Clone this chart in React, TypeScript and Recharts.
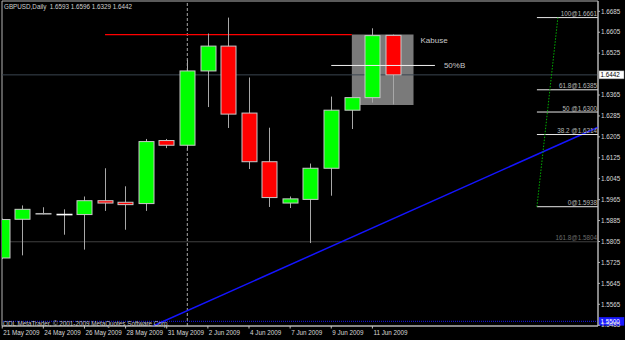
import React from 'react';
import { ComposedChart, Bar, XAxis, YAxis, ReferenceLine, ReferenceArea } from 'recharts';

// ---- data ----
const opens = [1.5742, 1.5890, 1.5911, 1.5908, 1.5908, 1.5961, 1.5955, 1.5950, 1.6191, 1.6173, 1.6457, 1.6552, 1.6296, 1.6110, 1.5952, 1.5966, 1.6085, 1.6307, 1.6355, 1.6593];
const highs = [1.5893, 1.5943, 1.5936, 1.5928, 1.5977, 1.6085, 1.6016, 1.6197, 1.6197, 1.6500, 1.6600, 1.6661, 1.6432, 1.6240, 1.5977, 1.6103, 1.6359, 1.6357, 1.6620, 1.6596];
const lows = [1.5738, 1.5752, 1.5909, 1.5831, 1.5774, 1.5922, 1.5850, 1.5922, 1.6162, 1.6156, 1.6319, 1.6239, 1.6082, 1.5937, 1.5933, 1.5799, 1.5980, 1.6235, 1.6336, 1.6329];
const closes = [1.5889, 1.5928, 1.5910, 1.5908, 1.5961, 1.5952, 1.5946, 1.6187, 1.6173, 1.6457, 1.6552, 1.6292, 1.6110, 1.5973, 1.5968, 1.6085, 1.6307, 1.6355, 1.6592, 1.6442];

const tickIdx = [0, 2, 4, 6, 8, 10, 12, 14, 16, 18];
const tickDates = ['21 May 2009', '24 May 2009', '26 May 2009', '28 May 2009', '31 May 2009', '2 Jun 2009', '4 Jun 2009', '7 Jun 2009', '9 Jun 2009', '11 Jun 2009'];
const priceTicks = [1.6685, 1.6605, 1.6525, 1.6365, 1.6285, 1.6205, 1.6125, 1.6045, 1.5965, 1.5885, 1.5805, 1.5725, 1.5645, 1.5565, 1.5485];

const fibNames = ['100@', '61.8@', '50 @', '38.2 @', '0@'];
const fibPrices = [1.6661, 1.6385, 1.6300, 1.6214, 1.5938];
const fibExtName = '161.8@';
const fibExtPrice = 1.5804;
const fibStartIdx = 26;
const fibBaseEndIdx = 27.02;

const lastPrice = 1.6442;
const bluePrice = 1.5500;
const resistance = 1.6596;
const resistFrom = 5;
const resistTo = 17;
const boxFrom = 17;
const boxTo = 20;
const boxLow = 1.6327;
const halfLevel = 1.6478;
const halfFrom = 16;
const halfTo = 21.04;
const monthSepIdx = 9;
const trendStart = { x: 7.33, y: 1.5482 };
const trendEnd = { x: 28.97, y: 1.6242 };

const title = 'GBPUSD,Daily  1.6593 1.6596 1.6329 1.6442';
const copyright = 'ODL MetaTrader, \u00A9 2001-2009 MetaQuotes Software Corp.';

const X_DOMAIN: [number, number] = [-0.01, 28.97];
const Y_DOMAIN: [number, number] = [1.5482, 1.67244];

const data = opens.map((o, i) => ({ i, o, h: highs[i], l: lows[i], c: closes[i] }));

const FONT = 'Liberation Sans, Arial, sans-serif';
const FS = 6.3;

const Candle = (props: any) => {
  const { x, y, width, height, payload } = props;
  if (x == null || y == null) return null;
  const top = Math.min(y, y + height);
  const bot = Math.max(y, y + height);
  const { o, h, l, c } = payload;
  const span = h - l || 1e-9;
  const py = (v: number) => top + ((h - v) / span) * (bot - top);
  const cx = Math.round(x + width / 2) + 0.5;
  const yo = py(o);
  const yc = py(c);
  const bw = 15;
  const doji = Math.abs(c - o) < 0.0003;
  const wick = <line x1={cx} x2={cx} y1={top} y2={bot} stroke="#a8a8a8" strokeWidth={1} />;
  if (doji) {
    return (
      <g>
        {wick}
        <rect x={cx - bw / 2 - 0.5} y={yo - 0.8} width={bw + 1} height={1.6} fill={c >= o ? '#ffffff' : '#b0b0b0'} />
      </g>
    );
  }
  const bt = Math.min(yo, yc);
  const bh = Math.max(Math.abs(yc - yo), 2);
  return (
    <g>
      {wick}
      <rect x={cx - bw / 2} y={bt} width={bw} height={bh} fill={c > o ? '#00ff00' : '#ff0000'} stroke="#c8c8c8" strokeWidth={1} />
    </g>
  );
};

const DateTick = (props: any) => {
  const { x, y, payload } = props;
  const k = tickIdx.indexOf(payload.value);
  return (
    <g>
      <line x1={x} x2={x} y1={y} y2={y + 2.5} stroke="#c0c0c0" />
      <text x={x + 1} y={y + 9.3} fill="#d8d8d8" fontSize={FS} fontFamily={FONT}>{tickDates[k]}</text>
    </g>
  );
};

const fibLabel = (text: string, color: string) => (p: any) => {
  const vb = p.viewBox || {};
  return (
    <text x={vb.x + vb.width - 1} y={vb.y - 1.5} textAnchor="end" fill={color} fontSize={FS} fontFamily={FONT}>{text}</text>
  );
};

const priceBox = (text: string, bg: string, fg: string) => (p: any) => {
  const vb = p.viewBox || {};
  const right = vb.x + vb.width;
  return (
    <g>
      <rect x={right + 1} y={vb.y - 4} width={25} height={8} fill={bg} stroke={bg === '#ffffff' ? '#808080' : bg} strokeWidth={0.5} />
      <text x={right + 2.5} y={vb.y + 2.3} fill={fg} fontSize={FS} fontFamily={FONT}>{text}</text>
    </g>
  );
};

const kabuseLabel = (p: any) => {
  const vb = p.viewBox || {};
  return (
    <text x={vb.x + vb.width + 7} y={vb.y + 8.8} fill="#c8c8c8" fontSize={8} fontFamily={FONT}>Kabuse</text>
  );
};

const halfLabel = (p: any) => {
  const vb = p.viewBox || {};
  return (
    <text x={vb.x + vb.width + 9} y={vb.y + 3} fill="#c8c8c8" fontSize={8} fontFamily={FONT}>50%B</text>
  );
};

export default function App() {
  return (
    <div style={{ position: 'absolute', left: 0, top: 0, width: 625, height: 340, background: '#000', overflow: 'hidden' }}>
      <ComposedChart width={625} height={340} data={data} margin={{ top: 1, right: 0, bottom: 0, left: 2 }}>
        <XAxis
          dataKey="i"
          type="number"
          domain={X_DOMAIN}
          allowDataOverflow
          ticks={tickIdx}
          interval={0}
          height={14}
          tickSize={0}
          tickMargin={0}
          tickLine={false}
          axisLine={{ stroke: '#b4b4b4' }}
          tick={<DateTick />}
        />
        <YAxis
          type="number"
          orientation="right"
          domain={Y_DOMAIN}
          allowDataOverflow
          ticks={priceTicks}
          interval={0}
          width={27}
          tickSize={2}
          tickMargin={1}
          tickLine={{ stroke: '#b4b4b4' }}
          axisLine={{ stroke: '#b4b4b4' }}
          tick={{ fill: '#d8d8d8', fontSize: FS, fontFamily: FONT }}
          tickFormatter={(v: number) => v.toFixed(4)}
        />
        <ReferenceArea x1={X_DOMAIN[0]} x2={X_DOMAIN[1]} y1={Y_DOMAIN[0]} y2={Y_DOMAIN[1]} fill="none" stroke="#b4b4b4" strokeWidth={1} ifOverflow="visible" zIndex={50} />
        <ReferenceArea x1={boxFrom} x2={boxTo} y1={boxLow} y2={resistance} fill="#7a7a7a" fillOpacity={1} stroke="none" ifOverflow="visible" label={kabuseLabel} zIndex={100} />
        <ReferenceLine y={lastPrice} stroke="#3a4650" strokeWidth={1} ifOverflow="visible" label={priceBox(lastPrice.toFixed(4), '#ffffff', '#000000')} zIndex={150} />
        <ReferenceLine y={fibExtPrice} stroke="#404040" strokeWidth={1} ifOverflow="visible" label={fibLabel(fibExtName + fibExtPrice.toFixed(4), '#6a6a6a')} zIndex={150} />
        <ReferenceLine x={monthSepIdx} stroke="#a8a8a8" strokeDasharray="3 2" strokeWidth={1} ifOverflow="visible" zIndex={150} />
        <ReferenceLine segment={[{ x: resistFrom, y: resistance }, { x: resistTo, y: resistance }]} stroke="#ff0000" strokeWidth={1.3} ifOverflow="visible" zIndex={150} />
        <ReferenceLine y={bluePrice} stroke="#1a1aff" strokeDasharray="1 1" strokeWidth={1} ifOverflow="visible" label={priceBox(bluePrice.toFixed(4), '#1a1aff', '#ffffff')} zIndex={150} />
        <ReferenceLine segment={[trendStart, trendEnd]} stroke="#1414ff" strokeWidth={1.5} ifOverflow="visible" zIndex={150} />
        <Bar dataKey={(d: any) => [d.l, d.h]} barSize={16} shape={<Candle />} isAnimationActive={false} zIndex={300} />
        {fibPrices.map((p, k) => (
          <ReferenceLine
            key={'fib' + k}
            segment={[{ x: fibStartIdx, y: p }, { x: X_DOMAIN[1], y: p }]}
            stroke="#e8e8e8"
            strokeWidth={1}
            ifOverflow="visible"
            label={fibLabel(fibNames[k] + p.toFixed(4), '#b8b8b8')}
            zIndex={400}
          />
        ))}
        <ReferenceLine segment={[{ x: fibStartIdx, y: fibPrices[4] }, { x: fibBaseEndIdx, y: fibPrices[0] }]} stroke="#00b000" strokeDasharray="1.5 1.5" strokeWidth={1} ifOverflow="visible" zIndex={400} />
        <ReferenceLine segment={[{ x: halfFrom, y: halfLevel }, { x: halfTo, y: halfLevel }]} stroke="#f0f0f0" strokeWidth={1} ifOverflow="visible" label={halfLabel} zIndex={400} />
      </ComposedChart>
      <div style={{ position: 'absolute', left: 4, top: 3, fontSize: FS, fontFamily: FONT, color: '#d0d0d0', whiteSpace: 'pre', lineHeight: '8px' }}>{title}</div>
      <div style={{ position: 'absolute', left: 3, top: 320, fontSize: FS, fontFamily: FONT, color: '#c8c8c8', whiteSpace: 'pre', lineHeight: '8px' }}>{copyright}</div>
    </div>
  );
}
